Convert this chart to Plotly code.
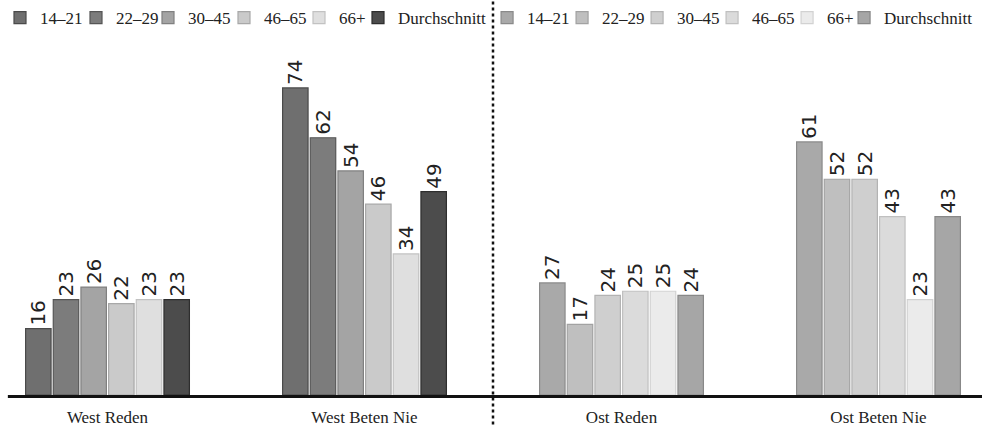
import plotly.graph_objects as go

# Age groups shown in each panel legend
age_groups = ["14–21", "22–29", "30–45", "46–65", "66+", "Durchschnitt"]

# Categories (West panel, then Ost panel)
west_cats = ["West Reden", "West Beten Nie"]
ost_cats = ["Ost Reden", "Ost Beten Nie"]

# Values per age group: [Reden, Beten Nie]
west_values = [
    [16, 74],
    [23, 62],
    [26, 54],
    [22, 46],
    [23, 34],
    [23, 49],
]
ost_values = [
    [27, 61],
    [17, 52],
    [24, 52],
    [25, 43],
    [25, 23],
    [24, 43],
]

west_fill = ["#6f6f6f", "#7c7c7c", "#a4a4a4", "#cacaca", "#dfdfdf", "#4c4c4c"]
west_edge = ["#4a4a4a", "#555555", "#808080", "#a8a8a8", "#c2c2c2", "#2e2e2e"]
ost_fill = ["#a9a9a9", "#bfbfbf", "#cfcfcf", "#dbdbdb", "#ebebeb", "#a6a6a6"]
ost_edge = ["#8a8a8a", "#a2a2a2", "#b3b3b3", "#c0c0c0", "#d2d2d2", "#888888"]

# per-entry legend widths so both legends fit in their half
west_lw = [31, 27, 31, 30, 14, None]
ost_lw = [30, 30, 30, 30, 12, None]

label_font = dict(family="DejaVu Sans", size=20, color="#222222")

fig = go.Figure()

for i, name in enumerate(age_groups):
    fig.add_trace(go.Bar(
        x=west_cats, y=west_values[i], name=name,
        offsetgroup=str(i), legend="legend",
        marker=dict(color=west_fill[i], line=dict(color=west_edge[i], width=1.2)),
        text=[str(v) for v in west_values[i]], textposition="outside",
        textangle=-90, textfont=label_font, cliponaxis=False,
        constraintext="none", legendwidth=west_lw[i],
        hoverinfo="x+y+name",
    ))

for i, name in enumerate(age_groups):
    fig.add_trace(go.Bar(
        x=ost_cats, y=ost_values[i], name=name,
        offsetgroup=str(i), legend="legend2",
        marker=dict(color=ost_fill[i], line=dict(color=ost_edge[i], width=1.2)),
        text=[str(v) for v in ost_values[i]], textposition="outside",
        textangle=-90, textfont=label_font, cliponaxis=False,
        constraintext="none", legendwidth=ost_lw[i],
        hoverinfo="x+y+name",
    ))

legend_font = dict(family="Liberation Serif", size=17, color="#222222")

fig.update_layout(
    width=982, height=427,
    margin=dict(l=0, r=0, t=0, b=32),
    paper_bgcolor="white", plot_bgcolor="white",
    barmode="group", bargap=0.354, bargroupgap=0.08,
    showlegend=True,
    legend=dict(orientation="h", x=0.0, xanchor="left", y=1.0, yanchor="top",
                font=legend_font, bgcolor="rgba(0,0,0,0)", traceorder="normal"),
    legend2=dict(orientation="h", x=0.496, xanchor="left", y=1.0, yanchor="top",
                 font=legend_font, bgcolor="rgba(0,0,0,0)", traceorder="normal"),
    xaxis=dict(
        categoryorder="array", categoryarray=west_cats + ost_cats,
        range=[-0.4183, 3.4027], showgrid=False, zeroline=False,
        showline=False, ticks="",
        ticklabelstandoff=10,
        tickfont=dict(family="Liberation Serif", size=17, color="#222222"),
        fixedrange=True,
    ),
    yaxis=dict(range=[0, 95.2], visible=False, fixedrange=True),
    shapes=[
        # baseline under the bars
        dict(type="line", xref="paper", yref="paper", x0=0.008, x1=1.0,
             y0=-0.0038, y1=-0.0038, line=dict(color="#111111", width=3)),
        # dotted divider between West and Ost
        dict(type="line", xref="x", yref="paper", x0=1.5, x1=1.5,
             y0=-0.09, y1=1.0, line=dict(color="#111111", width=2.5, dash="dot")),
    ],
)

fig.write_html("out.html")
